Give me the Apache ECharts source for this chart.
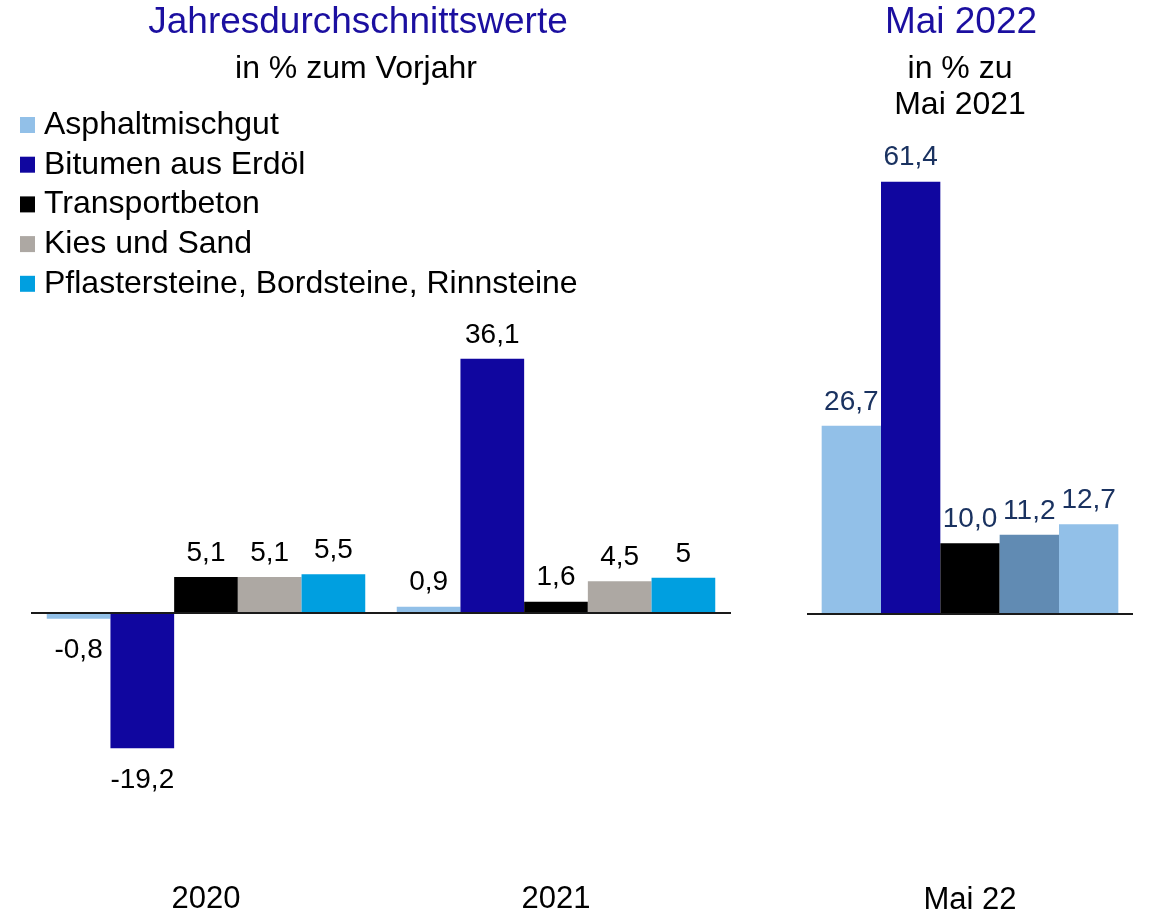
<!DOCTYPE html>
<html>
<head>
<meta charset="utf-8">
<script src="https://cdn.jsdelivr.net/npm/echarts@6/dist/echarts.min.js"></script>
<style>
  html, body { margin: 0; padding: 0; background: #fff; }
  #chart { width: 1152px; height: 916px; }
</style>
</head>
<body>
<div id="chart"></div>
<script>
// Jahresdurchschnittswerte (links)
const years = ["2020", "2021"];
const products = [
  "Asphaltmischgut",
  "Bitumen aus Erdöl",
  "Transportbeton",
  "Kies und Sand",
  "Pflastersteine, Bordsteine, Rinnsteine"
];
const yearValues = [
  [-0.8, 0.9],   // Asphaltmischgut
  [-19.2, 36.1], // Bitumen
  [5.1, 1.6],    // Transportbeton
  [5.1, 4.5],    // Kies und Sand
  [5.5, 5]       // Pflastersteine
];
const productColors = ["#92C0E8", "#10069F", "#000000", "#ADA8A3", "#009FE0"];

// Mai 2022 zu Mai 2021 (rechts)
const monthCategory = ["Mai 22"];
const monthValues = [26.7, 61.4, 10.0, 11.2, 12.7];
const monthColors = ["#92C0E8", "#10069F", "#000000", "#618BB3", "#92C0E8"];

const FONT = "'Liberation Sans', Arial, sans-serif";
const PX = 7.04; // pixel pro Prozentpunkt

const chart = echarts.init(document.getElementById("chart"));

const zeroLine = {
  silent: true,
  symbol: "none",
  label: { show: false },
  lineStyle: { color: "#1a1a1a", width: 2, type: "solid" },
  data: [{ yAxis: 0 }]
};

const leftSeries = products.map((name, i) => ({
  name: name,
  type: "bar",
  xAxisIndex: 0,
  yAxisIndex: 0,
  barGap: "0%",
  barCategoryGap: "9%",
  itemStyle: { color: productColors[i] },
  data: yearValues[i].map((v) => ({
    value: v,
    label: { position: v < 0 ? "bottom" : "top", distance: v < 0 ? 18 : 10 }
  })),
  label: {
    show: true,
    fontFamily: FONT,
    fontSize: 28,
    color: "#000",
    formatter: (p) => String(p.value).replace(".", ",")
  },
  markLine: i === 0 ? zeroLine : undefined
}));

const rightSeries = monthValues.map((v, i) => ({
  name: products[i] + " (Mai 22)",
  type: "bar",
  xAxisIndex: 1,
  yAxisIndex: 1,
  barGap: "0%",
  barCategoryGap: "9%",
  itemStyle: { color: monthColors[i] },
  data: [v],
  label: {
    show: true,
    position: "top",
    distance: 10,
    fontFamily: FONT,
    fontSize: 28,
    color: "#1A3260",
    formatter: (p) => p.value.toFixed(1).replace(".", ",")
  },
  markLine: i === 0 ? zeroLine : undefined
}));

const option = {
  backgroundColor: "#fff",
  animation: false,
  textStyle: { fontFamily: FONT },
  graphic: [
    { type: "text", x: 358, y: 23, style: { text: "Jahresdurchschnittswerte", fontSize: 37, fontFamily: FONT, fill: "#1B0FA0", textAlign: "center", textVerticalAlign: "middle", align: "center", verticalAlign: "middle" } },
    { type: "text", x: 356, y: 69, style: { text: "in % zum Vorjahr", fontSize: 32, fontFamily: FONT, fill: "#000", textAlign: "center", textVerticalAlign: "middle", align: "center", verticalAlign: "middle" } },
    { type: "text", x: 961, y: 23, style: { text: "Mai 2022", fontSize: 37, fontFamily: FONT, fill: "#1B0FA0", textAlign: "center", textVerticalAlign: "middle", align: "center", verticalAlign: "middle" } },
    { type: "text", x: 960, y: 69, style: { text: "in % zu", fontSize: 32, fontFamily: FONT, fill: "#000", textAlign: "center", textVerticalAlign: "middle", align: "center", verticalAlign: "middle" } },
    { type: "text", x: 960, y: 105, style: { text: "Mai 2021", fontSize: 32, fontFamily: FONT, fill: "#000", textAlign: "center", textVerticalAlign: "middle", align: "center", verticalAlign: "middle" } }
  ],
  legend: {
    data: products,
    orient: "vertical",
    left: 20,
    top: 109,
    padding: 0,
    icon: "rect",
    itemWidth: 15,
    itemHeight: 16,
    itemGap: 7.7,
    selectedMode: false,
    textStyle: { fontFamily: FONT, fontSize: 32, color: "#000", lineHeight: 32, padding: [0, 0, 0, 4] }
  },
  grid: [
    { left: 31, width: 700, top: 613 - 40 * PX, height: 78 * PX },
    { left: 807, width: 326, top: 614 - 70 * PX, height: 108 * PX }
  ],
  xAxis: [
    {
      gridIndex: 0, type: "category", data: years,
      axisLine: { show: false, onZero: false }, axisTick: { show: false },
      axisLabel: { fontFamily: FONT, fontSize: 31, color: "#000", margin: 3 }
    },
    {
      gridIndex: 1, type: "category", data: monthCategory,
      axisLine: { show: false, onZero: false }, axisTick: { show: false },
      axisLabel: { fontFamily: FONT, fontSize: 31, color: "#000", margin: 4 }
    }
  ],
  yAxis: [
    { gridIndex: 0, type: "value", min: -38, max: 40, show: false, splitLine: { show: false } },
    { gridIndex: 1, type: "value", min: -38, max: 70, show: false, splitLine: { show: false } }
  ],
  series: leftSeries.concat(rightSeries)
};

chart.setOption(option);
</script>
</body>
</html>
